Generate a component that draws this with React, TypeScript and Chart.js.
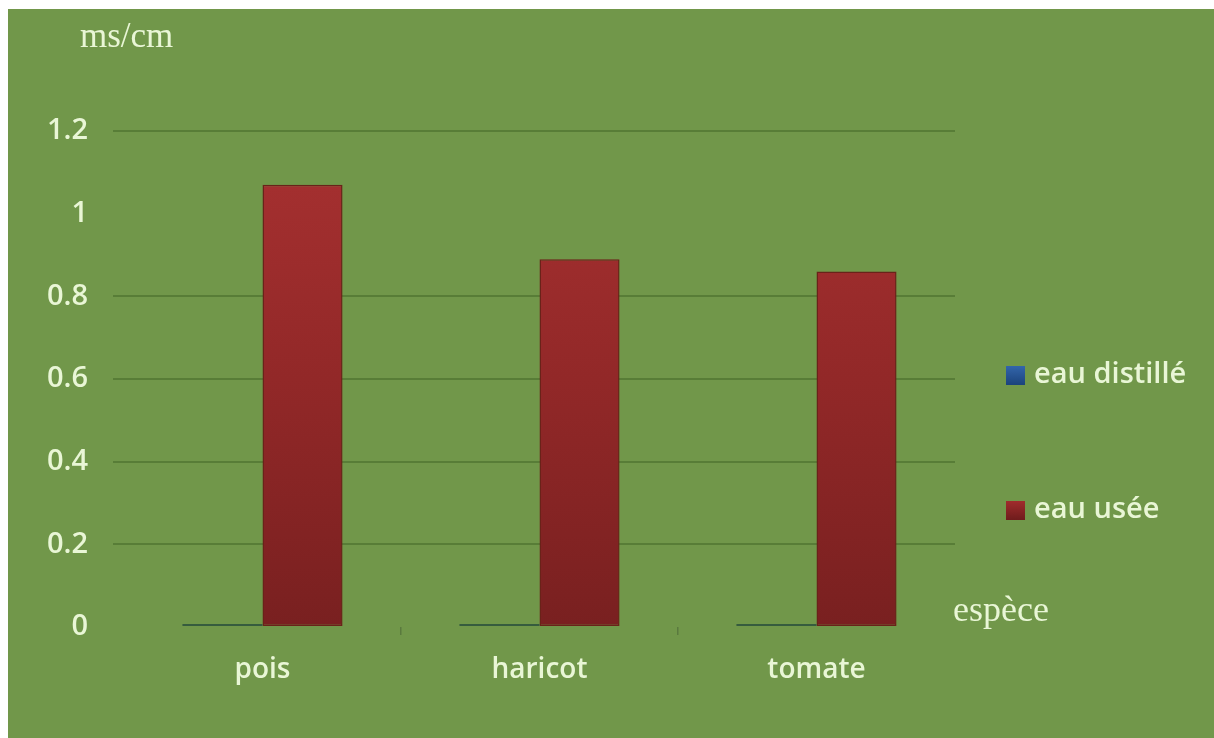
import React, { useEffect, useRef } from "react";
import { Chart, registerables } from "chart.js";

Chart.register(...registerables);

const categories = ["pois", "haricot", "tomate"];
const seriesLabels = ["eau distillé", "eau usée"];
const eauDistillee = [0, 0, 0];
const eauUsee = [1.07, 0.89, 0.86];
const yMin = 0;
const yMax = 1.2;
const yStep = 0.2;
const hiddenGridValues = [0, 1];
const yUnit = "ms/cm";
const xTitle = "espèce";

const BG = "#71974a";
const TEXT = "#e9f6d6";
const GRID = "#587d37";

export default function App() {
  const ref = useRef<HTMLCanvasElement | null>(null);

  useEffect(() => {
    if (!ref.current) return;

    const redGradient = (ctx: any) => {
      const chart = ctx.chart;
      const area = chart.chartArea;
      if (!area) return "#8d2626";
      const g = chart.ctx.createLinearGradient(0, area.top, 0, area.bottom);
      g.addColorStop(0, "#a83131");
      g.addColorStop(0.5, "#922828");
      g.addColorStop(1, "#792020");
      return g;
    };

    const textPlugin = {
      id: "texts",
      afterDraw(chart: any) {
        const c = chart.ctx;
        c.save();
        c.fillStyle = TEXT;
        c.textAlign = "left";
        c.textBaseline = "alphabetic";
        c.font = '35px "Liberation Serif"';
        c.fillText(yUnit, 72, 38);
        c.font = '36px "Liberation Serif"';
        c.fillText(xTitle, 945, 612);

        // legend
        const legendY = [366, 501];
        const swatches = [
          ["#3467ad", "#1b437c"],
          ["#a32d2d", "#6e1c1c"],
        ];
        chart.data.datasets.forEach((ds: any, i: number) => {
          const y = legendY[i];
          const g = c.createLinearGradient(0, y - 10, 0, y + 10);
          g.addColorStop(0, swatches[i][0]);
          g.addColorStop(1, swatches[i][1]);
          c.fillStyle = g;
          c.fillRect(998, y - 9, 19, 19);
          c.fillStyle = TEXT;
          c.font = '600 29px "Open Sans"';
          c.textBaseline = "middle";
          c.fillText(ds.label, 1026, y);
        });
        c.restore();
      },
    };

    const chart = new Chart(ref.current, {
      type: "bar",
      data: {
        labels: categories,
        datasets: [
          {
            label: seriesLabels[0],
            data: eauDistillee,
            backgroundColor: "#365c3e",
            borderWidth: 0,
            minBarLength: 3,
          },
          {
            label: seriesLabels[1],
            data: eauUsee,
            backgroundColor: redGradient,
            borderColor: "#6a2219",
            borderWidth: 1.5,
            borderSkipped: false,
          },
        ],
      },
      options: {
        responsive: false,
        animation: false,
        layout: { padding: { top: 122, right: 259, left: 0, bottom: 0 } },
        datasets: { bar: { categoryPercentage: 0.578, barPercentage: 1.0 } },
        plugins: {
          legend: { display: false },
          tooltip: { enabled: false },
          title: { display: false },
        },
        scales: {
          x: {
            afterFit: (scale: any) => {
              scale.height = 111;
            },
            border: { display: false },
            grid: {
              drawOnChartArea: false,
              drawTicks: true,
              tickLength: 8,
              lineWidth: 1.5,
              color: (ctx: any) =>
                ctx.type !== "tick" || ctx.index === 0
                  ? "rgba(0,0,0,0)"
                  : "#5a7a3e",
            },
            ticks: {
              color: TEXT,
              padding: 18,
              font: { family: "Open Sans", size: 28, weight: "600" },
            },
          },
          y: {
            min: yMin,
            max: yMax,
            afterFit: (scale: any) => {
              scale.width = 116;
            },
            border: { display: false },
            grid: {
              lineWidth: 2,
              drawTicks: true,
              tickLength: 11,
              color: (ctx: any) => {
                const v = ctx.tick ? ctx.tick.value : null;
                if (v === null) return "rgba(0,0,0,0)";
                return hiddenGridValues.some((h) => Math.abs(h - v) < 1e-6)
                  ? "rgba(0,0,0,0)"
                  : GRID;
              },
            },
            ticks: {
              stepSize: yStep,
              color: TEXT,
              padding: 25,
              font: { family: "Open Sans", size: 29, weight: "600" },
              callback: (v: any) => String(Math.round(Number(v) * 10) / 10),
            },
          },
        },
      },
      plugins: [textPlugin],
    });

    return () => chart.destroy();
  }, []);

  return (
    <div
      style={{
        position: "fixed",
        left: 8,
        top: 9,
        width: 1206,
        height: 729,
        background: BG,
      }}
    >
      <canvas ref={ref} width={1206} height={729} />
    </div>
  );
}
